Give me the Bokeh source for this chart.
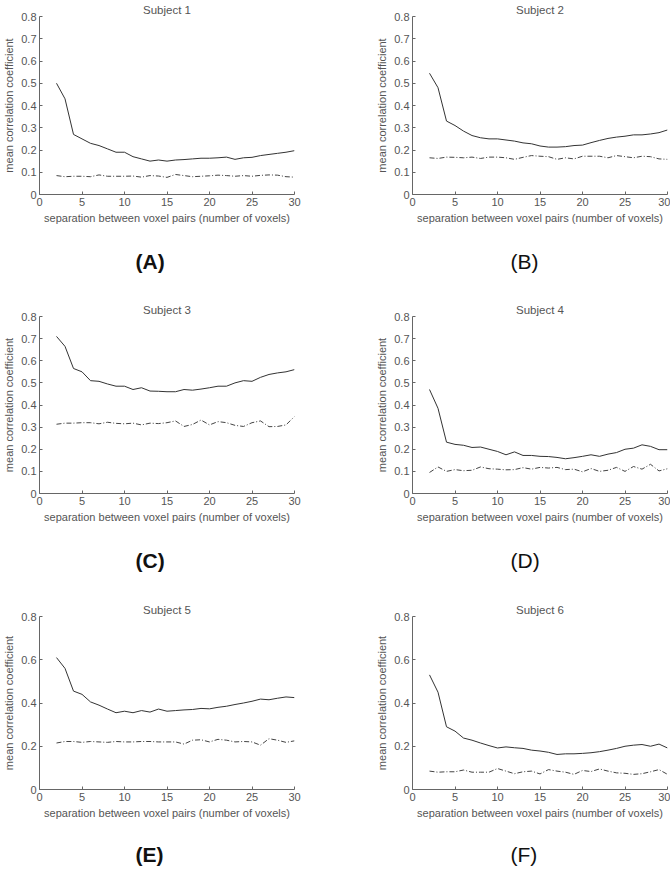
from bokeh.plotting import figure
from bokeh.layouts import column, row
from bokeh.models import Title, FixedTicker, Range1d, CustomJSTickFormatter
from bokeh.embed import file_html
from bokeh.resources import INLINE

separation = list(range(2, 31))

s1_within = [0.50, 0.43, 0.27, 0.25, 0.23, 0.22, 0.205, 0.19, 0.19, 0.17, 0.16, 0.15, 0.155, 0.15,
             0.155, 0.157, 0.16, 0.163, 0.163, 0.165, 0.168, 0.158, 0.165, 0.167, 0.175, 0.18, 0.185, 0.19, 0.197]
s1_baseline = [0.085, 0.08, 0.082, 0.082, 0.08, 0.088, 0.082, 0.082, 0.082, 0.083, 0.078, 0.085, 0.083, 0.077,
               0.09, 0.085, 0.08, 0.082, 0.084, 0.087, 0.085, 0.082, 0.085, 0.082, 0.086, 0.088, 0.087, 0.08, 0.078]

s2_within = [0.545, 0.48, 0.33, 0.31, 0.285, 0.265, 0.255, 0.25, 0.25, 0.245, 0.24, 0.232, 0.228, 0.218,
             0.213, 0.213, 0.215, 0.22, 0.222, 0.233, 0.243, 0.252, 0.258, 0.262, 0.268, 0.268, 0.272, 0.278, 0.29]
s2_baseline = [0.165, 0.162, 0.168, 0.167, 0.165, 0.168, 0.162, 0.168, 0.168, 0.165, 0.158, 0.167, 0.175, 0.172,
               0.17, 0.158, 0.165, 0.16, 0.172, 0.172, 0.172, 0.165, 0.175, 0.17, 0.165, 0.172, 0.17, 0.16, 0.158]

s3_within = [0.71, 0.665, 0.565, 0.55, 0.51, 0.507, 0.495, 0.485, 0.485, 0.47, 0.478, 0.463, 0.462, 0.46,
             0.46, 0.47, 0.467, 0.472, 0.478, 0.485, 0.485, 0.5, 0.51, 0.507, 0.525, 0.538, 0.545, 0.55, 0.56]
s3_baseline = [0.313, 0.318, 0.318, 0.32, 0.32, 0.315, 0.322, 0.317, 0.315, 0.318, 0.31, 0.318, 0.316, 0.32,
               0.328, 0.303, 0.312, 0.332, 0.31, 0.325, 0.32, 0.308, 0.303, 0.32, 0.328, 0.302, 0.303, 0.31, 0.348]

s4_within = [0.47, 0.385, 0.232, 0.222, 0.218, 0.208, 0.21, 0.2, 0.19, 0.175, 0.188, 0.172, 0.172, 0.168,
             0.167, 0.163, 0.157, 0.162, 0.168, 0.175, 0.168, 0.178, 0.185, 0.2, 0.205, 0.22, 0.213, 0.198, 0.198]
s4_baseline = [0.095, 0.12, 0.1, 0.108, 0.103, 0.105, 0.12, 0.112, 0.11, 0.107, 0.108, 0.117, 0.11, 0.118,
               0.115, 0.118, 0.108, 0.11, 0.098, 0.113, 0.1, 0.105, 0.118, 0.1, 0.122, 0.11, 0.132, 0.102, 0.112]

s5_within = [0.61, 0.56, 0.455, 0.44, 0.405, 0.39, 0.372, 0.355, 0.362, 0.355, 0.365, 0.358, 0.372, 0.362,
             0.365, 0.368, 0.37, 0.375, 0.373, 0.38, 0.385, 0.393, 0.4, 0.408, 0.418, 0.415, 0.422, 0.428, 0.425]
s5_baseline = [0.215, 0.222, 0.222, 0.218, 0.222, 0.22, 0.218, 0.222, 0.22, 0.22, 0.222, 0.222, 0.22, 0.22,
               0.22, 0.21, 0.228, 0.23, 0.22, 0.232, 0.228, 0.22, 0.222, 0.22, 0.205, 0.235, 0.228, 0.218, 0.225]

s6_within = [0.53, 0.45, 0.29, 0.27, 0.238, 0.228, 0.215, 0.203, 0.192, 0.197, 0.193, 0.19, 0.182, 0.178,
             0.172, 0.162, 0.165, 0.165, 0.167, 0.17, 0.175, 0.182, 0.19, 0.2, 0.205, 0.208, 0.2, 0.21, 0.192]
s6_baseline = [0.085, 0.08, 0.082, 0.082, 0.09, 0.08, 0.08, 0.08, 0.097, 0.085, 0.073, 0.082, 0.085, 0.072,
               0.092, 0.085, 0.08, 0.07, 0.088, 0.083, 0.095, 0.085, 0.077, 0.075, 0.07, 0.073, 0.082, 0.092, 0.07]

titles = ["Subject 1", "Subject 2", "Subject 3", "Subject 4", "Subject 5", "Subject 6"]
letters = ["(A)", "(B)", "(C)", "(D)", "(E)", "(F)"]
x_ticks = [0, 5, 10, 15, 20, 25, 30]
y_ticks_fine = [0, 0.1, 0.2, 0.3, 0.4, 0.5, 0.6, 0.7, 0.8]
y_ticks_coarse = [0, 0.2, 0.4, 0.6, 0.8]
x_label = "separation between voxel pairs (number of voxels)"
y_label = "mean correlation coefficient"

within = [s1_within, s2_within, s3_within, s4_within, s5_within, s6_within]
baseline = [s1_baseline, s2_baseline, s3_baseline, s4_baseline, s5_baseline, s6_baseline]

FONT = "Liberation Sans"
TXT = "#555555"


def panel(i, frame_h, top, bottom, left_col, letter_standoff, yticks):
    fw = 255
    p = figure(frame_width=fw, frame_height=frame_h,
               x_range=Range1d(0, 30), y_range=Range1d(0, 0.8),
               output_backend="svg", toolbar_location=None,
               title=titles[i],
               min_border_left=31, min_border_right=(79 if left_col else 3),
               min_border_top=top, min_border_bottom=bottom)
    p.title.align = "center"
    p.title.text_font = FONT
    p.title.text_font_size = "11.5px"
    p.title.text_font_style = "normal"
    p.title.text_color = TXT
    p.title.standoff = 2
    p.outline_line_color = None
    p.grid.visible = False
    p.background_fill_color = "white"
    p.border_fill_color = "white"
    for ax in (p.xaxis[0], p.yaxis[0]):
        ax.axis_line_color = "#666666"
        ax.major_tick_line_color = "#666666"
        ax.major_tick_in = 3
        ax.major_tick_out = 0
        ax.minor_tick_line_color = None
        ax.major_label_text_font = FONT
        ax.major_label_text_font_size = "11px"
        ax.major_label_text_color = TXT
        ax.axis_label_text_font = FONT
        ax.axis_label_text_font_size = "11px"
        ax.axis_label_text_font_style = "normal"
        ax.axis_label_text_color = TXT
        ax.major_label_standoff = 3
        ax.axis_label_standoff = 3
    p.xaxis[0].ticker = FixedTicker(ticks=x_ticks)
    p.yaxis[0].ticker = FixedTicker(ticks=yticks)
    p.yaxis[0].formatter = CustomJSTickFormatter(code="return String(Number(tick.toFixed(2)));")
    p.xaxis[0].axis_label = x_label
    p.yaxis[0].axis_label = y_label

    p.line(separation, within[i], line_color="#333333", line_width=1)
    p.line(separation, baseline[i], line_color="#444444", line_width=1, line_dash="5 2 1 2")

    letter = Title(text=letters[i], align="left", offset=(96 if left_col else 98),
                   text_font=FONT, text_font_size="21px",
                   text_font_style=("bold" if left_col else "normal"), text_color="#111111",
                   standoff=letter_standoff)
    p.add_layout(letter, "below")
    return p


plots = []
geo = [(178, 13, 106, 42), (178, 13, 106, 42),
       (177, 13, 107, 42), (177, 13, 107, 42),
       (173, 15, 77, 38), (173, 15, 77, 38)]
for i in range(6):
    fh, top, bottom, so = geo[i]
    yt = y_ticks_coarse if i >= 4 else y_ticks_fine
    plots.append(panel(i, fh, top, bottom, i % 2 == 0, so, yt))

layout = column(row(plots[0], plots[1], spacing=0),
                row(plots[2], plots[3], spacing=0),
                row(plots[4], plots[5], spacing=0), spacing=0)

open("out.html", "w").write(file_html(layout, INLINE))
